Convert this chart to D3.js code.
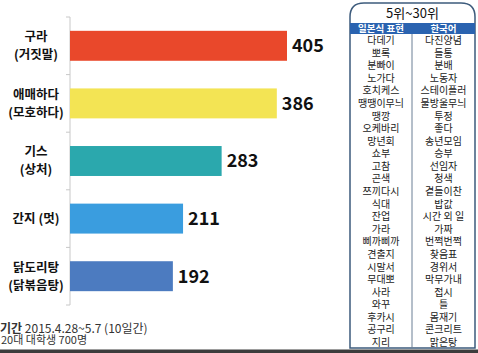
<!DOCTYPE html>
<html>
<head>
<meta charset="utf-8">
<script src="https://cdn.jsdelivr.net/npm/d3@7"></script>
<style>
  body { margin: 0; background: #fff; }
  svg { display: block; font-family: "Noto Sans CJK KR", "Noto Sans", sans-serif; }
</style>
</head>
<body>
<svg id="chart" width="478" height="353"></svg>
<script>
// top 5 words (bars)
var labels = [["구라", "(거짓말)"], ["애매하다", "(모호하다)"], ["기스", "(상처)"], ["간지 (멋)"], ["닭도리탕", "(닭볶음탕)"]];
var values = [405, 386, 283, 211, 192];
var colors = ["#e9482b", "#f3e454", "#2ba8ad", "#3a9ddf", "#4c7bc0"];

// 5위~30위 table
var japanese = ["다데기", "뽀록", "분빠이", "노가다", "호치케스", "땡땡이무늬", "땡깡", "오케바리", "망년회", "쇼부", "고참", "곤색", "쯔끼다시", "식대", "잔업", "가라", "삐까삐까", "견출지", "시말서", "무대뽀", "사라", "와꾸", "후카시", "공구리", "지리"];
var korean = ["다진양념", "들통", "분배", "노동자", "스테이플러", "물방울무늬", "투정", "좋다", "송년모임", "승부", "선임자", "청색", "곁들이찬", "밥값", "시간 외 일", "가짜", "번쩍번쩍", "찾음표", "경위서", "막무가내", "접시", "틀", "몸재기", "콘크리트", "맑은탕"];

var svg = d3.select("#chart");

var x = d3.scaleLinear().domain([0, 405]).range([70, 287]);
var y = d3.scaleBand().domain(d3.range(values.length)).range([17, 305]).paddingInner(0.48).paddingOuter(0.24);

// axis line with ticks between bands
var step = y.step();
var tickY = d3.range(values.length + 1).map(function(i) { return 17 + i * step; });
svg.append("line")
    .attr("x1", 70).attr("x2", 70)
    .attr("y1", 17).attr("y2", 305)
    .style("stroke", "#c8c8c8").style("stroke-width", 1);
svg.selectAll(".tick")
    .data(tickY)
    .enter().append("line")
    .attr("x1", 66).attr("x2", 70)
    .attr("y1", function(d) { return d; }).attr("y2", function(d) { return d; })
    .style("stroke", "#c8c8c8");

svg.selectAll(".bar")
    .data(values)
    .enter().append("rect")
    .attr("x", x(0))
    .attr("y", function(d, i) { return y(i); })
    .attr("width", function(d) { return x(d) - x(0); })
    .attr("height", y.bandwidth())
    .style("fill", function(d, i) { return colors[i]; });

svg.selectAll(".val")
    .data(values)
    .enter().append("text")
    .attr("x", function(d) { return x(d) + 5; })
    .attr("y", function(d, i) { return y(i) + y.bandwidth() / 2; })
    .attr("dy", "0.36em")
    .style("font-size", "18px")
    .style("font-weight", "bold")
    .style("fill", "#111")
    .text(function(d) { return d; });

// category labels
labels.forEach(function(lines, i) {
    var cy = y(i) + y.bandwidth() / 2;
    var t = svg.append("text")
        .attr("text-anchor", "middle")
        .style("font-size", "12.5px")
        .style("font-weight", "bold")
        .style("fill", "#111");
    lines.forEach(function(s, j) {
        t.append("tspan")
            .attr("x", 36)
            .attr("y", cy + (j - (lines.length - 1) / 2) * 18)
            .attr("dy", "0.35em")
            .text(s);
    });
});

// footnote
var foot = svg.append("text").attr("x", 0).attr("y", 333).style("font-size", "12px").style("fill", "#333");
foot.append("tspan").style("font-weight", "bold").text("기간 ");
foot.append("tspan").text("2015.4.28~5.7 (10일간)");
svg.append("text").attr("x", 1).attr("y", 344).style("font-size", "11px").style("fill", "#333").text("20대 대학생 700명");

// table
var tx0 = 350, tx1 = 475, tTop = 3, tBot = 348, mid = 412;
var r = 14;
svg.append("path")
    .attr("d", "M" + tx0 + "," + tBot + " L" + tx0 + "," + (tTop + r) +
        " Q" + tx0 + "," + tTop + " " + (tx0 + r) + "," + tTop +
        " L" + (tx1 - r) + "," + tTop +
        " Q" + tx1 + "," + tTop + " " + tx1 + "," + (tTop + r) +
        " L" + tx1 + "," + tBot + " Z")
    .style("fill", "#fff")
    .style("stroke", "#3d5b7c")
    .style("stroke-width", 1.5);

svg.append("text")
    .attr("x", (tx0 + tx1) / 2).attr("y", 13.5)
    .attr("text-anchor", "middle").attr("dy", "0.35em")
    .style("font-size", "13px").style("fill", "#111")
    .text("5위~30위");

svg.append("rect")
    .attr("x", tx0).attr("y", 23).attr("width", tx1 - tx0).attr("height", 11)
    .style("fill", "#2a63b0");
svg.append("line")
    .attr("x1", mid).attr("x2", mid).attr("y1", 34).attr("y2", tBot)
    .style("stroke", "#6a7f95").style("stroke-width", 1);

svg.append("text").attr("x", (tx0 + mid) / 2).attr("y", 28.5).attr("dy", "0.35em")
    .attr("text-anchor", "middle").style("font-size", "9.5px").style("font-weight", "bold")
    .style("fill", "#fff").text("일본식 표현");
svg.append("text").attr("x", (mid + tx1) / 2).attr("y", 28.5).attr("dy", "0.35em")
    .attr("text-anchor", "middle").style("font-size", "9.5px").style("font-weight", "bold")
    .style("fill", "#fff").text("한국어");

var ry = d3.scaleLinear().domain([0, japanese.length - 1]).range([40.5, 342.5]);
svg.selectAll(".jp")
    .data(japanese)
    .enter().append("text")
    .attr("x", (tx0 + mid) / 2)
    .attr("y", function(d, i) { return ry(i); })
    .attr("dy", "0.35em").attr("text-anchor", "middle")
    .style("font-size", "10px").style("fill", "#1a1a1a")
    .text(function(d) { return d; });
svg.selectAll(".kr")
    .data(korean)
    .enter().append("text")
    .attr("x", (mid + tx1) / 2)
    .attr("y", function(d, i) { return ry(i); })
    .attr("dy", "0.35em").attr("text-anchor", "middle")
    .style("font-size", "10px").style("fill", "#1a1a1a")
    .text(function(d) { return d; });

// dark strip along the bottom edge
svg.append("rect").attr("x", 0).attr("y", 349.5).attr("width", 478).attr("height", 4).style("fill", "#3c3c3c");
</script>
</body>
</html>
